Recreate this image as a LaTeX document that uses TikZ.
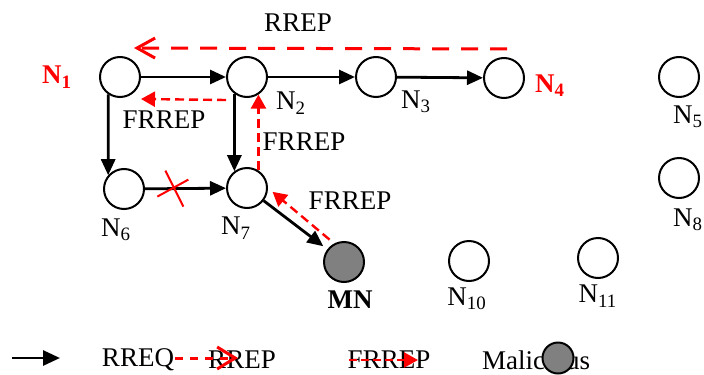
\documentclass[tikz,border=0pt]{standalone}
\usepackage{fontspec}
\setmainfont{Liberation Serif}
\usetikzlibrary{arrows.meta}
\begin{document}
\begin{tikzpicture}[x=0.5pt,y=-0.5pt,font=\fontsize{13.5}{16}\selectfont,every node/.style={inner sep=0pt},nd/.style={circle,draw,line width=1pt,minimum size=20pt},mal/.style={nd,fill=black!50},
req/.style={line width=1.4pt,-{Triangle[length=8pt,width=7pt]}},
rrep/.style={red,line width=1.5pt,dash pattern=on 8.5pt off 6pt,-{Straight Barb[length=9pt,width=10pt]}},
frrep/.style={red,line width=1.2pt,dash pattern=on 4.5pt off 2.5pt,-{Triangle[length=7pt,width=7.5pt]}},
brk/.style={red,line width=1pt}]
\useasboundingbox (0,0) rectangle (704,374);
\node[nd] (N1) at (120,77) {}; \node[nd] (N2) at (247,77) {}; \node[nd] (N3) at (376,77) {}; \node[nd] (N4) at (504,78) {}; \node[nd] (N5) at (679,77) {};
\node[nd] (N6) at (124,189) {}; \node[nd] (N7) at (247,188) {}; \node[nd] (N8) at (679,178) {};
\node[mal] (MN) at (344,262) {}; \node[nd] (N10) at (469,261) {}; \node[nd] (N11) at (598,258) {};
\node[text=red] (t1) at (57,77) {\bfseries N\textsubscript{1}}; \node (t2) at (291,103) {N\textsubscript{2}}; \node (t3) at (416,102) {N\textsubscript{3}}; \node[text=red] (t4) at (550,86) {\bfseries N\textsubscript{4}}; \node (t5) at (688,117) {N\textsubscript{5}};
\node (t6) at (116,230) {N\textsubscript{6}}; \node (t7) at (236,228) {N\textsubscript{7}}; \node (t8) at (688,220) {N\textsubscript{8}};
\node (tm) at (350,300) {\bfseries MN}; \node (t10) at (467,299) {N\textsubscript{10}}; \node (t11) at (598,296) {N\textsubscript{11}};
\draw[req] (N1) -- (N2); \draw[req] (N2) -- (N3); \draw[req] (N3) -- (N4);
\draw[req] (N1.236) -- (N6.139); \draw[req] (N2.233) -- (N7.127);
\draw[req] (N6) -- (N7) coordinate[pos=0.35] (x67); \draw[brk] (x67) ++(-16,8) -- ++(31,-17); \draw[brk] (x67) ++(-8,-18) -- ++(18,36);
\draw[req,shorten >=2.5pt] (N7) -- (MN);
\draw[rrep] ([xshift=1.5pt,yshift=4pt]N4.north) -- ([xshift=7pt,yshift=4pt]N1.north); \node (r1) at (298,23) {RREP};
\draw[frrep] ([yshift=-11.5pt]N2.west) -- ([yshift=-11pt]N1.east); \node (r2) at (164,120) {FRREP};
\draw[frrep] (N7.57) -- (N2.-57); \node (r3) at (304,142) {FRREP};
\draw[frrep,shorten <=3pt,shorten >=3pt] (MN.118) -- (N7.0); \node (r4) at (350,201) {FRREP};
\coordinate (k1) at (12,358); \coordinate (k2) at (60,358); \draw[req,-{Triangle[length=8.5pt,width=7.5pt]}] (k1) -- (k2); \node (k3) at (138,360) {RREQ};
\node (k6) at (242,360) {RREP}; \coordinate (k4) at (175,358); \coordinate (k5) at (238,358); \draw[rrep,dash pattern=on 4pt off 3.5pt,-{Straight Barb[length=9pt,width=11pt]}] (k4) -- (k5);
\node (k7) at (389,360) {FRREP}; \coordinate (k8) at (349,360); \coordinate (k9) at (418,360); \draw[frrep,dash pattern=on 4pt off 2pt] (k8) -- (k9);
\node (k10) at (536,360) {Malicious}; \node[mal,minimum size=15.5pt] (k11) at (558,358) {};
\end{tikzpicture}
\end{document}
